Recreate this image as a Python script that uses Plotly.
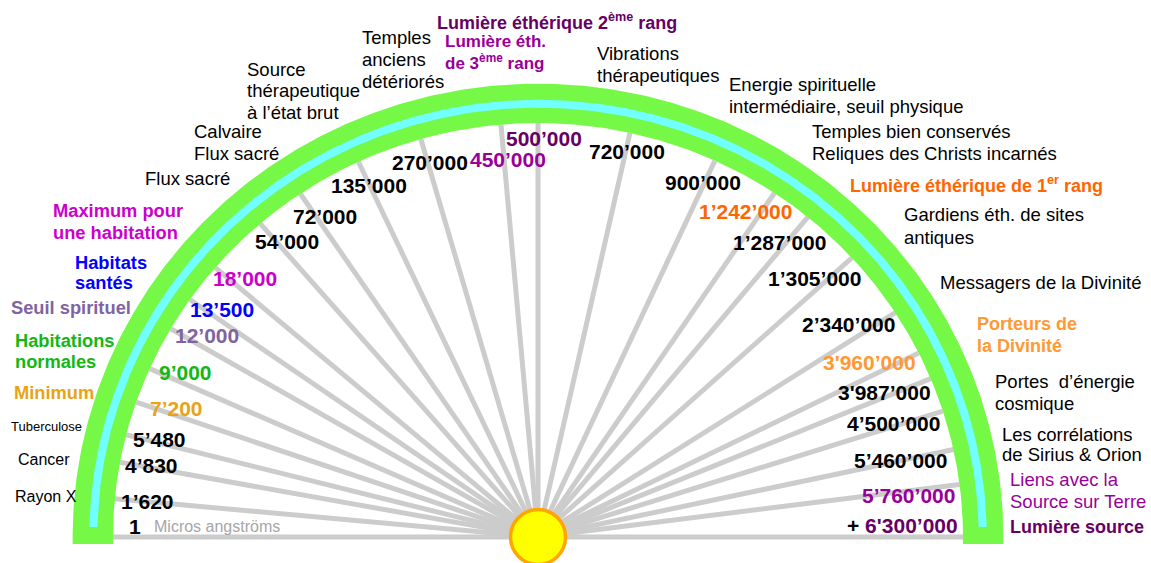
import numpy as np
import plotly.graph_objects as go

# ---------------- data ----------------
values = ["1", "1’620", "4’830", "5’480", "7’200", "9’000", "12’000", "13’500",
          "18’000", "54’000", "72’000", "135’000", "270’000", "450’000", "500’000",
          "720’000", "900’000", "1’242’000", "1’287’000", "1’305’000", "2’340’000",
          "3'960’000", "3'987’000", "4’500’000", "5’460’000", "5’760’000", "6'300’000"]
ray_angles_deg = [180, 174.7, 169.6, 165.7, 161, 156, 149.8, 145, 139.4, 130.8, 124,
                  115, 106, 95, 90, 77.5, 65.4, 56.2, 50.6, 42.4, 32.8, 26.4, 22.5,
                  17.7, 12.2, 7.3, 0]
value_colors = ["#000", "#000", "#000", "#000", "#e8a317", "#14b814", "#8064a2", "#0000ff",
                "#cc00cc", "#000", "#000", "#000", "#000", "#990099", "#660066",
                "#000", "#000", "#ff6600", "#000", "#000", "#000", "#ff9933", "#000",
                "#000", "#000", "#990099", "#660066"]
# label placement (pixel anchor x, centre y, anchor side)
value_pos = [(127, 526, "left"), (119, 502, "left"), (123, 465, "left"), (131, 439, "left"),
             (148, 408, "left"), (157, 372, "left"), (173, 335, "left"), (188, 309, "left"),
             (211, 278, "left"), (253, 241, "left"), (291, 216, "left"), (329, 185, "left"),
             (390, 162, "left"), (468, 159, "left"), (504, 139, "left"), (587, 152, "left"),
             (663, 183, "left"), (697, 211, "left"), (828, 242, "right"), (863, 278, "right"),
             (897, 324, "right"), (918, 362, "right"), (933, 392, "right"), (942, 423, "right"),
             (949, 460, "right"), (957, 495, "right"), (960, 525, "right")]

BLACK = "#000000"
# (lines, x px, [y px per line], size, color, bold)
outer_labels = [
    (["Flux sacré"], 143, [179], 18.5, BLACK, False),
    (["Calvaire", "Flux sacré"], 192, [131, 153], 18.5, BLACK, False),
    (["Source", "thérapeutique", "à l’état brut"], 245, [69, 90, 112], 18.5, BLACK, False),
    (["Temples", "anciens", "détériorés"], 360, [38, 60, 81], 18.5, BLACK, False),
    (["Lumière éthérique 2<sup>ème</sup> rang"], 435, [21], 18, "#660066", True),
    (["Lumière éth.", "de 3<sup>ème</sup> rang"], 443, [42, 62], 17, "#990099", True),
    (["Vibrations", "thérapeutiques"], 595, [53, 75], 18.5, BLACK, False),
    (["Energie spirituelle", "intermédiaire, seuil physique"], 727, [85, 106], 18.5, BLACK, False),
    (["Temples bien conservés", "Reliques des Christs incarnés"], 810, [131, 153], 18.5, BLACK, False),
    (["Lumière éthérique de 1<sup>er</sup> rang"], 848, [184], 18, "#ff6600", True),
    (["Gardiens éth. de sites", "antiques"], 902, [215, 237], 18.5, BLACK, False),
    (["Messagers de la Divinité"], 938, [283], 18.5, BLACK, False),
    (["Porteurs de", "la Divinité"], 975, [324, 346], 18, "#ff9933", True),
    (["Portes\u00a0 d’énergie", "cosmique"], 993, [381, 403], 18.5, BLACK, False),
    (["Les corrélations", "de Sirius &amp; Orion"], 1000, [434, 455], 18.5, BLACK, False),
    (["Liens avec la", "Source sur Terre"], 1008, [480, 501], 18.5, "#990099", False),
    (["Lumière source"], 1008, [527], 18, "#660066", True),
    (["Maximum pour", "une habitation"], 51, [210, 232], 18.3, "#cc00cc", True),
    (["Habitats", "santés"], 73, [262, 283], 18.3, "#0000ff", True),
    (["Seuil spirituel"], 9, [307], 18.3, "#8064a2", True),
    (["Habitations", "normales"], 13, [340, 361], 18.3, "#14b814", True),
    (["Minimum"], 12, [392], 18.3, "#e8a317", True),
    (["Tuberculose"], 9, [426], 13, BLACK, False),
    (["Cancer"], 16, [459], 16, BLACK, False),
    (["Rayon X"], 13, [496], 16, BLACK, False),
    (["Micros angströms"], 152, [526], 16, "#a6a6a6", False),
]

# ---------------- geometry ----------------
W, H = 1151, 563
CX, CY = 538, 537      # pixel position of the sun / dial centre
RX, RY = 425, 414      # pixel radii of the inner edge of the arc
FONT = "Liberation Sans, Arial, sans-serif"


def paper(px, py):
    return px / W, 1 - py / H


fig = go.Figure()

# rays
th = np.radians(ray_angles_deg)
rx, ry = [], []
for t in th:
    rx += [0, np.cos(t), None]
    ry += [0, np.sin(t), None]
fig.add_trace(go.Scatter(x=rx, y=ry, mode="lines", line=dict(color="#cccccc", width=5),
                         hoverinfo="skip", showlegend=False))


def band(r_in, r_out, y_end):
    a0 = np.arcsin(max(y_end, 0) / r_in) if y_end > 0 else 0
    t = np.linspace(a0, np.pi - a0, 400)
    xo, yo = r_out * np.cos(t), r_out * np.sin(t)
    xi, yi = r_in * np.cos(t[::-1]), r_in * np.sin(t[::-1])
    xs = [r_out, *xo, -r_out, -r_in, *xi, r_in, r_out]
    ys = [y_end, *yo, y_end, y_end, *yi, y_end, y_end]
    return xs, ys


bx, by = band(1.0, 1.095, -0.017)
fig.add_trace(go.Scatter(x=bx, y=by, fill="toself", fillcolor="#76f946", mode="lines",
                         line=dict(width=0, color="#76f946"), hoverinfo="skip", showlegend=False))
cx_, cy_ = band(1.037, 1.056, 0.024)
fig.add_trace(go.Scatter(x=cx_, y=cy_, fill="toself", fillcolor="#72ffff", mode="lines",
                         line=dict(width=0, color="#72ffff"), hoverinfo="skip", showlegend=False))

# sun
fig.add_trace(go.Scatter(x=[0], y=[0], mode="markers",
                         marker=dict(size=55, color="#ffff00", line=dict(color="#ffa500", width=3.5)),
                         hoverinfo="skip", showlegend=False))

annotations = []
for (txt, col, (px, py, side)) in zip(values, value_colors, value_pos):
    if txt.startswith("6'300"):
        txt = "<span style='color:#000000'>+ </span>" + txt
    x, y = paper(px, py)
    annotations.append(dict(text=txt, x=x, y=y, xref="paper", yref="paper", xanchor=side,
                            yanchor="middle", showarrow=False,
                            font=dict(family=FONT, size=21, color=col, weight="bold")))
for (lines, px, pys, sz, col, bold) in outer_labels:
    for line, py in zip(lines, pys):
        x, y = paper(px, py)
        annotations.append(dict(text=line, x=x, y=y, xref="paper", yref="paper", xanchor="left",
                                yanchor="middle", align="left", showarrow=False,
                                font=dict(family=FONT, size=sz, color=col,
                                          weight="bold" if bold else "normal")))

fig.update_layout(
    width=W, height=H, margin=dict(l=0, r=0, t=0, b=0),
    paper_bgcolor="white", plot_bgcolor="white",
    xaxis=dict(range=[(0 - CX) / RX, (W - CX) / RX], visible=False, fixedrange=True),
    yaxis=dict(range=[(CY - H) / RY, CY / RY], visible=False, fixedrange=True),
    annotations=annotations, showlegend=False,
)

fig.write_html("out.html", config={"displayModeBar": False, "staticPlot": True},
               post_script="document.body.style.margin='0';")
